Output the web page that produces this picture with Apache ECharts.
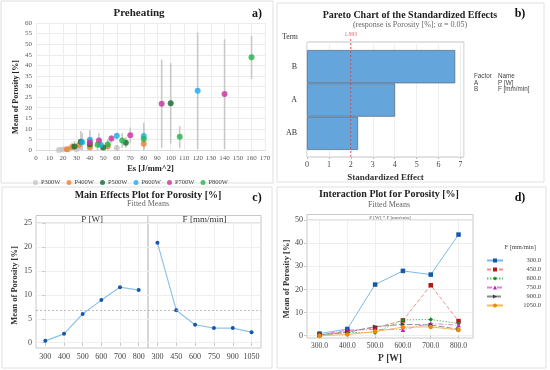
<!DOCTYPE html>
<html><head><meta charset="utf-8">
<script src="https://cdn.jsdelivr.net/npm/echarts@6/dist/echarts.min.js"></script>
<style>html,body{margin:0;padding:0;background:#fff}#c{width:550px;height:370px}</style>
</head><body><div id="c"></div><script>
// ---------- Panel a: Preheating scatter ----------
const scatterNames = ['P300W','P400W','P500W','P600W','P700W','P800W'];
const esP300 = [60,40,30,24,20,17.1];
const esP400 = [80,53.3,40,32,26.7,22.9];
const esP500 = [100,66.7,50,40,33.3,28.6];
const esP600 = [120,80,60,48,40,34.3];
const esP700 = [140,93.3,70,56,46.7,40];
const esP800 = [160,106.7,80,64,53.3,45.7];
const porP300 = [0.9,0.8,0.3,0.3,0.2,0.0];
const porP400 = [2.9,1.8,1.4,2.4,1.4,0.4];
const porP500 = [22.1,3.4,1.2,2.7,3.9,1.7];
const porP600 = [28.0,6.6,6.7,2.5,4.8,3.7];
const porP700 = [26.4,21.8,7.0,5.4,4.5,3.7];
const porP800 = [43.8,6.3,5.2,4.5,2.7,2.5];
const errLoP300 = [0,0,0,0,0,0];
const errHiP300 = [2.5,3,1,1,0.8,0.5];
const errLoP400 = [0,0,0,0,0,0];
const errHiP400 = [5,4,3,5,3.5,1];
const errLoP500 = [3,1,0,0,0,0];
const errHiP500 = [41,6,2.5,6,9,4.3];
const errLoP600 = [0.5,0.5,5,0,0,0];
const errHiP600 = [55.5,12.8,7.9,5,9.5,8];
const errLoP700 = [0.5,1,3.3,3.5,1.5,0];
const errHiP700 = [52.3,42.7,10.6,7,7.9,6];
const errLoP800 = [33.5,1,0.5,1,0.5,0];
const errHiP800 = [54,11.3,10,8,5,4];
const scatterColors = ['#c4c4c4','#f07f2e','#0f6b2a','#19aee8','#cc2f9f','#22b548'];

// ---------- Panel b: Pareto ----------
const paretoTerms = ['AB','A','B'];
const paretoEffects = [2.33,4.02,6.76];
const paretoRef = 1.993;

// ---------- Panel c: Main effects ----------
const pLabels = ['300','400','500','600','700','800'];
const fLabels = ['300','450','600','750','900','1050'];
const mainP = [0.4,1.85,6.0,8.9,11.6,11.0];
const mainF = [20.9,6.8,3.75,3.05,3.05,2.2];
const mainMean = 6.7;

// ---------- Panel d: Interaction ----------
const pValues = [300,400,500,600,700,800];
const fNames = ['300.0','450.0','600.0','750.0','900.0','1050.0'];
const intF300 = [0.9,2.9,22.1,28.0,26.4,43.7];
const intF450 = [0.4,1.9,3.4,6.6,21.8,6.3];
const intF600 = [0.3,1.4,1.3,6.8,7.0,5.3];
const intF750 = [0.3,2.4,2.7,2.6,5.3,4.5];
const intF900 = [0.2,1.5,3.9,4.9,4.6,2.8];
const intF1050 = [0.0,0.5,1.8,3.7,3.8,2.5];

const FF = '"Liberation Serif"';
const esList = [esP300,esP400,esP500,esP600,esP700,esP800];
const porList = [porP300,porP400,porP500,porP600,porP700,porP800];
const loList = [errLoP300,errLoP400,errLoP500,errLoP600,errLoP700,errLoP800];
const hiList = [errHiP300,errHiP400,errHiP500,errHiP600,errHiP700,errHiP800];

const series = [];
scatterNames.forEach((n,i)=>{
  series.push({
    type:'custom', name:'err'+n, xAxisIndex:0, yAxisIndex:0, z:1, silent:true,
    data: esList[i].map((x,j)=>[x, loList[i][j], hiList[i][j]]),
    encode:{x:0, y:[1,2]},
    renderItem:(params, api)=>{
      const x = api.value(0);
      const a = api.coord([x, api.value(1)]);
      const b = api.coord([x, api.value(2)]);
      return {type:'line', shape:{x1:a[0],y1:a[1],x2:b[0],y2:b[1]}, style:{stroke:'#c9c9c9', lineWidth:1.6}};
    }
  });
});
scatterNames.forEach((n,i)=>{
  series.push({
    type:'scatter', name:n, xAxisIndex:0, yAxisIndex:0, z:3,
    symbol:'circle', symbolSize:6,
    itemStyle:{color:scatterColors[i]},
    data: esList[i].map((x,j)=>[x, porList[i][j]])
  });
});
// Pareto reference line
series.push({
  type:'line', name:'ref', xAxisIndex:1, yAxisIndex:1, clip:false, symbol:'none',
  lineStyle:{color:'#e03c3c', type:[2,2], width:0.8},
  data:[[paretoRef,0],[paretoRef,1.03]]
});
series.push({
  type:'scatter', name:'refLabel', xAxisIndex:1, yAxisIndex:1, clip:false, symbolSize:1,
  itemStyle:{color:'rgba(0,0,0,0)'},
  label:{show:true, position:'top', distance:0, formatter:String(paretoRef), color:'#e03c3c', fontSize:5.5, fontFamily:FF},
  data:[[paretoRef,1.03]]
});
series.push({
  type:'bar', name:'effects', xAxisIndex:2, yAxisIndex:2, barCategoryGap:'0%',
  itemStyle:{color:'#64a6dc', borderColor:'#5b6f85', borderWidth:0.8},
  data: paretoEffects
});
// Main effects
const meanLine = {symbol:'none', silent:true, label:{show:false}, lineStyle:{color:'#b0b0b0', type:[2,2], width:0.8}, data:[{yAxis:mainMean}]};
series.push({
  type:'line', name:'mainP', xAxisIndex:3, yAxisIndex:3, symbol:'circle', symbolSize:4,
  itemStyle:{color:'#1757a6'}, lineStyle:{color:'#8cc3ea', width:1.2},
  data: mainP.map((v,i)=>[i,v]), markLine: meanLine
});
series.push({
  type:'line', name:'mainF', xAxisIndex:4, yAxisIndex:4, symbol:'circle', symbolSize:4,
  itemStyle:{color:'#1757a6'}, lineStyle:{color:'#8cc3ea', width:1.2},
  data: mainF.map((v,i)=>[i,v]), markLine: meanLine
});
// Interaction
const intList = [intF300,intF450,intF600,intF750,intF900,intF1050];
const intStyles = [
  {lc:'#7db9e8', t:'solid', s:'rect', sc:'#1558a8', r:0},
  {lc:'#f09090', t:[4,2], s:'rect', sc:'#b01818', r:0},
  {lc:'#5cc36a', t:[1.5,1.5], s:'diamond', sc:'#0f8f1e', r:0},
  {lc:'#e080e0', t:[5,2,1,2], s:'triangle', sc:'#c020c0', r:0},
  {lc:'#8c8c8c', t:[6,2], s:'triangle', sc:'#404040', r:-90},
  {lc:'#f6b85c', t:'solid', s:'circle', sc:'#f08a00', r:0}
];
fNames.forEach((n,i)=>{
  const st = intStyles[i];
  series.push({
    type:'line', name:n, xAxisIndex:5, yAxisIndex:5, symbol:st.s, symbolSize:4.5, symbolRotate:st.r,
    itemStyle:{color:st.sc}, lineStyle:{color:st.lc, type:st.t, width:1},
    data: pValues.map((p,j)=>[p, intList[i][j]])
  });
});

const lab = (fs, col)=>({fontSize:fs, color:col||'#555', fontFamily:FF});
const option = {
  animation:false,
  textStyle:{fontFamily:FF},
  grid:[
    {left:36, top:23, width:229, height:127},
    {left:307, top:42, width:157, height:115, show:true, borderColor:'#c4c4c4', borderWidth:1},
    {left:307, top:50, width:157, height:100},
    {left:36, top:223, width:112, height:125, show:true, borderColor:'#c8c8c8', borderWidth:1},
    {left:148, top:223, width:113, height:125, show:true, borderColor:'#c8c8c8', borderWidth:1},
    {left:307, top:220, width:166, height:118, show:true, borderColor:'#c8c8c8', borderWidth:1}
  ],
  xAxis:[
    {gridIndex:0, type:'value', min:0, max:170, interval:10,
     axisLine:{show:true, lineStyle:{color:'#d9d9d9'}}, axisTick:{show:false},
     axisLabel:Object.assign(lab(7,'#595959'),{margin:5}),
     splitLine:{lineStyle:{color:'#ececec'}},
     name:'Es [J/mm^2]', nameLocation:'middle', nameGap:14,
     nameTextStyle:{fontWeight:'bold', fontSize:8.5, color:'#222', fontFamily:FF}},
    {gridIndex:1, type:'value', min:0, max:7.16, interval:1,
     axisLine:{show:false}, axisTick:{show:true, length:2, lineStyle:{color:'#bdbdbd'}},
     axisLabel:Object.assign(lab(8,'#444'),{margin:4}),
     splitLine:{lineStyle:{color:'#eeeeee'}},
     name:'Standardized Effect', nameLocation:'middle', nameGap:16,
     nameTextStyle:{fontWeight:'bold', fontSize:9, color:'#333', fontFamily:FF}},
    {gridIndex:2, type:'value', min:0, max:7.16, show:false},
    {gridIndex:3, type:'value', min:-0.5, max:5.5,
     axisLine:{show:false}, axisTick:{show:true, length:3, lineStyle:{color:'#c8c8c8'}, customValues:[0,1,2,3,4,5]},
     axisLabel:Object.assign(lab(8,'#444'),{margin:5, customValues:[0,1,2,3,4,5], formatter:v=>pLabels[v]}),
     splitLine:{show:true, lineStyle:{color:'#efefef'}}},
    {gridIndex:4, type:'value', min:-0.5, max:5.5,
     axisLine:{show:false}, axisTick:{show:true, length:3, lineStyle:{color:'#c8c8c8'}, customValues:[0,1,2,3,4,5]},
     axisLabel:Object.assign(lab(8,'#444'),{margin:5, customValues:[0,1,2,3,4,5], formatter:v=>fLabels[v]}),
     splitLine:{show:true, lineStyle:{color:'#efefef'}}},
    {gridIndex:5, type:'value', min:255, max:852,
     axisLine:{show:false}, axisTick:{show:true, length:3, lineStyle:{color:'#c8c8c8'}, customValues:pValues},
     axisLabel:Object.assign(lab(7.5,'#444'),{margin:4, customValues:pValues, formatter:v=>Number(v).toFixed(1)}),
     splitLine:{show:true, lineStyle:{color:'#efefef'}},
     name:'P [W]', nameLocation:'middle', nameGap:16,
     nameTextStyle:{fontWeight:'bold', fontSize:9.5, color:'#333', fontFamily:FF}}
  ],
  yAxis:[
    {gridIndex:0, type:'value', min:0, max:60, interval:5,
     axisLine:{show:false}, axisTick:{show:false},
     axisLabel:Object.assign(lab(7,'#595959'),{margin:4}),
     splitLine:{lineStyle:{color:'#ececec'}}},
    {gridIndex:1, type:'value', min:0, max:1, show:false},
    {gridIndex:2, type:'category', data:paretoTerms,
     axisLine:{show:false}, axisTick:{show:false},
     axisLabel:Object.assign(lab(8,'#333'),{margin:10})},
    {gridIndex:3, type:'value', min:-1.1, max:25,
     axisLine:{show:false}, axisTick:{show:true, length:3, lineStyle:{color:'#c8c8c8'}, customValues:[0,5,10,15,20,25]},
     axisLabel:Object.assign(lab(8,'#444'),{margin:4, customValues:[0,5,10,15,20,25]}),
     splitLine:{show:true, lineStyle:{color:'#efefef'}},
     name:'Mean of Porosity [%]', nameLocation:'middle', nameGap:17,
     nameTextStyle:{fontWeight:'bold', fontSize:8.5, color:'#333', fontFamily:FF}},
    {gridIndex:4, type:'value', min:-1.1, max:25,
     axisLine:{show:false}, axisTick:{show:false, customValues:[0,5,10,15,20,25]},
     axisLabel:{show:false},
     splitLine:{show:true, lineStyle:{color:'#efefef'}}},
    {gridIndex:5, type:'value', min:-1, max:50,
     axisLine:{show:false}, axisTick:{show:true, length:3, lineStyle:{color:'#c8c8c8'}, customValues:[0,10,20,30,40,50]},
     axisLabel:Object.assign(lab(8,'#444'),{margin:4, customValues:[0,10,20,30,40,50]}),
     splitLine:{show:true, lineStyle:{color:'#efefef'}},
     name:'Mean of Porosity [%]', nameLocation:'middle', nameGap:15,
     nameTextStyle:{fontWeight:'bold', fontSize:8.5, color:'#333', fontFamily:FF}}
  ],
  legend:[
    {data:scatterNames, top:174, left:28, icon:'circle', itemWidth:5, itemHeight:5, itemGap:6,
     textStyle:{fontSize:6.5, color:'#404040', fontFamily:FF, padding:[0,0,0,-2]}},
    {data:fNames, orient:'vertical', left:481, top:252, itemWidth:16, itemHeight:5, itemGap:2,
     formatter:n=>'{a|'+n+'}',
     textStyle:{rich:{a:{width:33, align:'right', fontSize:6.5, color:'#444', fontFamily:FF}}}}
  ],
  graphic:[
    {type:'rect', shape:{x:1,y:1,width:272,height:182}, style:{fill:'none', stroke:'#e0e0e0', lineWidth:1}, silent:true},
    {type:'rect', shape:{x:277,y:3,width:267,height:179}, style:{fill:'none', stroke:'#e0e0e0', lineWidth:1}, silent:true},
    {type:'rect', shape:{x:2,y:187,width:270,height:181}, style:{fill:'none', stroke:'#e0e0e0', lineWidth:1}, silent:true},
    {type:'rect', shape:{x:277,y:187,width:269,height:181}, style:{fill:'none', stroke:'#e0e0e0', lineWidth:1}, silent:true},
    // strips
    {type:'rect', shape:{x:36,y:215.5,width:112,height:7.5}, style:{fill:'#fff', stroke:'#c8c8c8', lineWidth:1}, silent:true},
    {type:'rect', shape:{x:148,y:215.5,width:113,height:7.5}, style:{fill:'#fff', stroke:'#c8c8c8', lineWidth:1}, silent:true},
    {type:'rect', shape:{x:307,y:214.5,width:166,height:5.5}, style:{fill:'#fff', stroke:'#c8c8c8', lineWidth:1}, silent:true},
    {type:'text', x:92, y:219.5, style:{text:'P [W]', fontSize:9, fontFamily:FF, fill:'#333', align:'center', verticalAlign:'middle'}},
    {type:'text', x:204.5, y:219.5, style:{text:'F [mm/min]', fontSize:9, fontFamily:FF, fill:'#333', align:'center', verticalAlign:'middle'}},
    {type:'text', x:390, y:217.3, style:{text:'P [W] * F [mm/min]', fontSize:5, fontFamily:FF, fill:'#555', align:'center', verticalAlign:'middle'}},
    // titles
    {type:'text', x:139, y:13, style:{text:'Preheating', fontSize:11, fontWeight:'bold', fontFamily:FF, fill:'#222', align:'center', verticalAlign:'middle'}},
    {type:'text', x:257, y:14, style:{text:'a)', fontSize:12, fontWeight:'bold', fontFamily:FF, fill:'#111', align:'center', verticalAlign:'middle'}},
    {type:'text', x:16, y:97, rotation:Math.PI/2, style:{text:'Mean of Porosity [%]', fontSize:8, fontWeight:'bold', fontFamily:FF, fill:'#222', align:'center', verticalAlign:'middle'}},
    {type:'text', x:410, y:15, style:{text:'Pareto Chart of the Standardized Effects', fontSize:10, fontWeight:'bold', fontFamily:FF, fill:'#222', align:'center', verticalAlign:'middle'}},
    {type:'text', x:410, y:24.5, style:{text:'(response is Porosity [%]; \u03b1 = 0.05)', fontSize:8, fontFamily:FF, fill:'#666', align:'center', verticalAlign:'middle'}},
    {type:'text', x:520, y:14, style:{text:'b)', fontSize:12, fontWeight:'bold', fontFamily:FF, fill:'#111', align:'center', verticalAlign:'middle'}},
    {type:'text', x:290, y:37, style:{text:'Term', fontSize:7.5, fontFamily:FF, fill:'#333', align:'center', verticalAlign:'middle'}},
    {type:'text', x:474, y:72.7, style:{text:'Factor\nA\nB', fontSize:6.3, lineHeight:6.8, fontFamily:'Liberation Sans', fill:'#444', align:'left', verticalAlign:'top'}},
    {type:'text', x:498, y:72.7, style:{text:'Name\nP [W]\nF [mm/min]', fontSize:6.3, lineHeight:6.8, fontFamily:'Liberation Sans', fill:'#444', align:'left', verticalAlign:'top'}},
    {type:'text', x:148, y:195, style:{text:'Main Effects Plot for Porosity [%]', fontSize:10, fontWeight:'bold', fontFamily:FF, fill:'#222', align:'center', verticalAlign:'middle'}},
    {type:'text', x:148, y:203.5, style:{text:'Fitted Means', fontSize:8, fontFamily:FF, fill:'#666', align:'center', verticalAlign:'middle'}},
    {type:'text', x:257, y:198, style:{text:'c)', fontSize:12, fontWeight:'bold', fontFamily:FF, fill:'#111', align:'center', verticalAlign:'middle'}},
    {type:'text', x:389, y:194, style:{text:'Interaction Plot for Porosity [%]', fontSize:10, fontWeight:'bold', fontFamily:FF, fill:'#222', align:'center', verticalAlign:'middle'}},
    {type:'text', x:389, y:204.5, style:{text:'Fitted Means', fontSize:8, fontFamily:FF, fill:'#666', align:'center', verticalAlign:'middle'}},
    {type:'text', x:520, y:198, style:{text:'d)', fontSize:12, fontWeight:'bold', fontFamily:FF, fill:'#111', align:'center', verticalAlign:'middle'}},
    {type:'text', x:536, y:247.7, style:{text:'F [mm/min]', fontSize:6.5, fontFamily:FF, fill:'#444', align:'right', verticalAlign:'middle'}}
  ],
  series: series
};
option.graphic.forEach(g=>{ if(g.type==='text'){ g.style.textAlign=g.style.align; g.style.textVerticalAlign=g.style.verticalAlign; g.silent=true; } });
echarts.init(document.getElementById('c'), null, {renderer:'canvas'}).setOption(option);
</script></body></html>
